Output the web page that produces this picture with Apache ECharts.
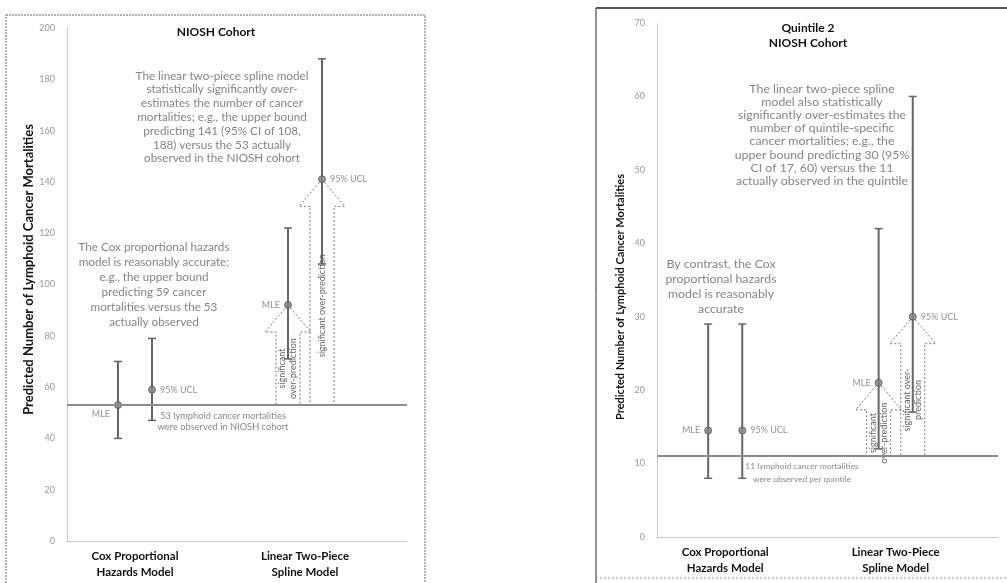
<!DOCTYPE html>
<html>
<head>
<meta charset="utf-8">
<script src="https://cdn.jsdelivr.net/npm/echarts@6/dist/echarts.min.js"></script>
<style>
html, body { margin: 0; padding: 0; background: #fff; }
#chart { width: 1007px; height: 583px; }
</style>
</head>
<body>
<div id="chart"></div>
<script>
// x is a plain 0..10 value axis, categories sit at slots 2 and 7
const categories = ["Cox Proportional\nHazards Model", "Linear Two-Piece\nSpline Model"];
const categorySlots = [2, 7];
const pointSlots = [1.5, 2.5, 6.5, 7.5];
const pointNames = ["MLE", "95% UCL", "MLE", "95% UCL"];

// left panel: whole NIOSH cohort
const cohortEstimate = [53, 59, 92, 141];
const cohortLower = [40, 47, 71, 108];
const cohortUpper = [70, 79, 122, 188];
const cohortObserved = 53;
const cohortYTicks = { min: 0, max: 200, interval: 20 };
const cohortArrowText = [null, null, "significant\nover-prediction", "significant over-prediction"];

// right panel: quintile 2
const quintileEstimate = [14.5, 14.5, 21, 30];
const quintileLower = [8, 8, 12, 17];
const quintileUpper = [29, 29, 42, 60];
const quintileObserved = 11;
const quintileYTicks = { min: 0, max: 70, interval: 10 };
const quintileArrowText = [null, null, "significant\nover-prediction", "significant over-\nprediction"];

const FONT = "Lato";
const yName = "Predicted Number of Lymphoid Cancer Mortalities";

function renderErrorBar(params, api) {
    const x = api.value(0);
    const top = api.coord([x, api.value(2)]);
    const bot = api.coord([x, api.value(1)]);
    const c = 4;
    const st = { stroke: "#666", lineWidth: 2 };
    return {
        type: "group",
        children: [
            { type: "line", shape: { x1: top[0], y1: top[1], x2: bot[0], y2: bot[1] }, style: st },
            { type: "line", shape: { x1: top[0] - c, y1: top[1], x2: top[0] + c, y2: top[1] }, style: { stroke: "#666", lineWidth: 1.5 } },
            { type: "line", shape: { x1: bot[0] - c, y1: bot[1], x2: bot[0] + c, y2: bot[1] }, style: { stroke: "#666", lineWidth: 1.5 } },
        ],
    };
}

function arrowRenderer(texts) {
    return function (params, api) {
        const tip = api.coord([api.value(0), api.value(1)]);
        const base = api.coord([api.value(0), api.value(2)]);
        const k = api.value(3);
        const x = tip[0], hw = 23, sw = 12, hh = 27;
        const neck = tip[1] + hh;
        const pts = [
            [x, tip[1]], [x + hw, neck], [x + sw, neck], [x + sw, base[1]],
            [x - sw, base[1]], [x - sw, neck], [x - hw, neck],
        ];
        return {
            type: "group",
            children: [
                { type: "polygon", shape: { points: pts }, style: { fill: "none", stroke: "#777", lineWidth: 1, lineDash: [2, 2] } },
                {
                    type: "text", x: x, y: (neck + base[1]) / 2, rotation: Math.PI / 2,
                    style: { text: texts[k], fill: "#666", fontSize: 9, fontFamily: FONT, align: "center", verticalAlign: "middle", lineHeight: 11 },
                },
            ],
        };
    };
}

function panelSeries(i, est, lo, hi, observed, arrowText, nudge) {
    return [
        {
            type: "custom", xAxisIndex: i, yAxisIndex: i, z: 3, silent: true,
            renderItem: renderErrorBar,
            data: pointSlots.map((x, k) => [x, lo[k], hi[k]]),
        },
        {
            type: "custom", xAxisIndex: i, yAxisIndex: i, z: 2, silent: true,
            renderItem: arrowRenderer(arrowText),
            data: pointSlots.map((x, k) => [x, est[k], observed, k]).filter((d) => arrowText[d[3]]),
        },
        {
            type: "scatter", xAxisIndex: i, yAxisIndex: i, z: 4, silent: true,
            symbol: "circle", symbolSize: 7,
            itemStyle: { color: "#858585", borderColor: "#555", borderWidth: 1 },
            label: { show: true, fontSize: 9, color: "#777", fontFamily: FONT, distance: 4 },
            data: pointSlots.map((x, k) => ({
                value: [x, est[k]],
                label: { position: k % 2 ? "right" : "left", formatter: pointNames[k], offset: (nudge && nudge[k]) || [0, 0] },
            })),
            markLine: {
                silent: true, symbol: "none", animation: false,
                label: { show: false },
                lineStyle: { color: "#8c8c8c", width: 2, type: "solid" },
                data: [{ yAxis: observed }],
            },
        },
    ];
}

function makeX(i) {
    return {
        type: "value", gridIndex: i, min: 0, max: 10,
        axisLine: { show: true, onZero: false, lineStyle: { color: "#bdbdbd", type: "dotted", width: 1 } },
        axisTick: { show: false },
        splitLine: { show: false },
        axisLabel: {
            customValues: categorySlots,
            formatter: (v) => categories[categorySlots.indexOf(v)] || "",
            fontWeight: "bold", color: "#111", fontSize: 11.5, lineHeight: 16, margin: 7, fontFamily: FONT,
        },
    };
}

function makeY(i, ticks, gap, size, pad) {
    return {
        type: "value", gridIndex: i, min: ticks.min, max: ticks.max, interval: ticks.interval,
        name: yName, nameLocation: "middle", nameGap: gap,
        nameTextStyle: { fontWeight: "bold", fontSize: size, color: "#111", fontFamily: FONT, padding: pad },
        axisLine: { show: true, lineStyle: { color: "#bdbdbd", type: "dotted", width: 1 } },
        axisTick: { show: false },
        splitLine: { show: false },
        axisLabel: { color: "#999", fontSize: 9, margin: 12, fontFamily: FONT },
    };
}

function note(x, y, text, opts) {
    return {
        type: "text", x: x, y: y, silent: true,
        style: Object.assign({
            text: text, fill: "#858585", fontSize: 11.7, fontFamily: FONT,
            align: "center", verticalAlign: "top", textAlign: "center", textVerticalAlign: "top",
        }, opts || {}),
    };
}

const chart = echarts.init(document.getElementById("chart"));
chart.setOption({
    animation: false,
    grid: [
        { left: 67, top: 28, width: 340, height: 513, outerBoundsMode: "none" },
        { left: 657, top: 23, width: 341, height: 514, outerBoundsMode: "none" },
    ],
    xAxis: [makeX(0), makeX(1)],
    yAxis: [
        makeY(0, cohortYTicks, 28, 13, [0, 0, 0, 30]),
        makeY(1, quintileYTicks, 31, 11, [0, 34, 0, 0]),
    ],
    series: [
        ...panelSeries(0, cohortEstimate, cohortLower, cohortUpper, cohortObserved, cohortArrowText, { 0: [0, 9] }),
        ...panelSeries(1, quintileEstimate, quintileLower, quintileUpper, quintileObserved, quintileArrowText),
    ],
    graphic: [
        // panel frames
        { type: "rect", silent: true, shape: { x: 6, y: 15, width: 419, height: 570 }, style: { fill: "none", stroke: "#999", lineWidth: 1.5, lineDash: [2, 1] } },
        { type: "line", silent: true, shape: { x1: 596, y1: 8, x2: 596, y2: 583 }, style: { stroke: "#222", lineWidth: 1 } },
        { type: "line", silent: true, shape: { x1: 596, y1: 8, x2: 1007, y2: 8 }, style: { stroke: "#555", lineWidth: 2 } },
        { type: "line", silent: true, shape: { x1: 596, y1: 578, x2: 1007, y2: 578 }, style: { stroke: "#999", lineWidth: 1, lineDash: [2, 2] } },

        // left panel texts
        note(216, 26, "NIOSH Cohort", { fill: "#111", fontWeight: "bold", fontSize: 12 }),
        note(222, 69, "The linear two-piece spline model\nstatistically significantly over-\nestimates the number of cancer\nmortalities; e.g., the upper bound\npredicting 141 (95% CI of 108,\n188) versus the 53 actually\nobserved in the NIOSH cohort", { lineHeight: 13.8 }),
        note(154, 240, "The Cox proportional hazards\nmodel is reasonably accurate;\ne.g., the upper bound\npredicting 59 cancer\nmortalities versus the 53\nactually observed", { lineHeight: 15 }),
        note(223, 410, "53 lymphoid cancer mortalities\nwere observed in NIOSH cohort", { fontSize: 9.3, lineHeight: 11, fill: "#8a8a8a" }),

        // right panel texts
        note(808, 20.5, "Quintile 2\nNIOSH Cohort", { fill: "#111", fontWeight: "bold", fontSize: 12, lineHeight: 15 }),
        note(822, 82, "The linear two-piece spline\nmodel also statistically\nsignificantly over-estimates the\nnumber of quintile-specific\ncancer mortalities; e.g., the\nupper bound predicting 30 (95%\nCI of 17, 60) versus the 11\nactually observed in the quintile", { fontSize: 12.3, lineHeight: 13.2 }),
        note(721, 257, "By contrast, the Cox\nproportional hazards\nmodel is reasonably\naccurate", { fontSize: 12.3, lineHeight: 15 }),
        note(802, 460, "11 lymphoid cancer mortalities\nwere observed per quintile", { fontSize: 8.4, lineHeight: 13, fill: "#8a8a8a" }),
    ],
});
</script>
</body>
</html>
